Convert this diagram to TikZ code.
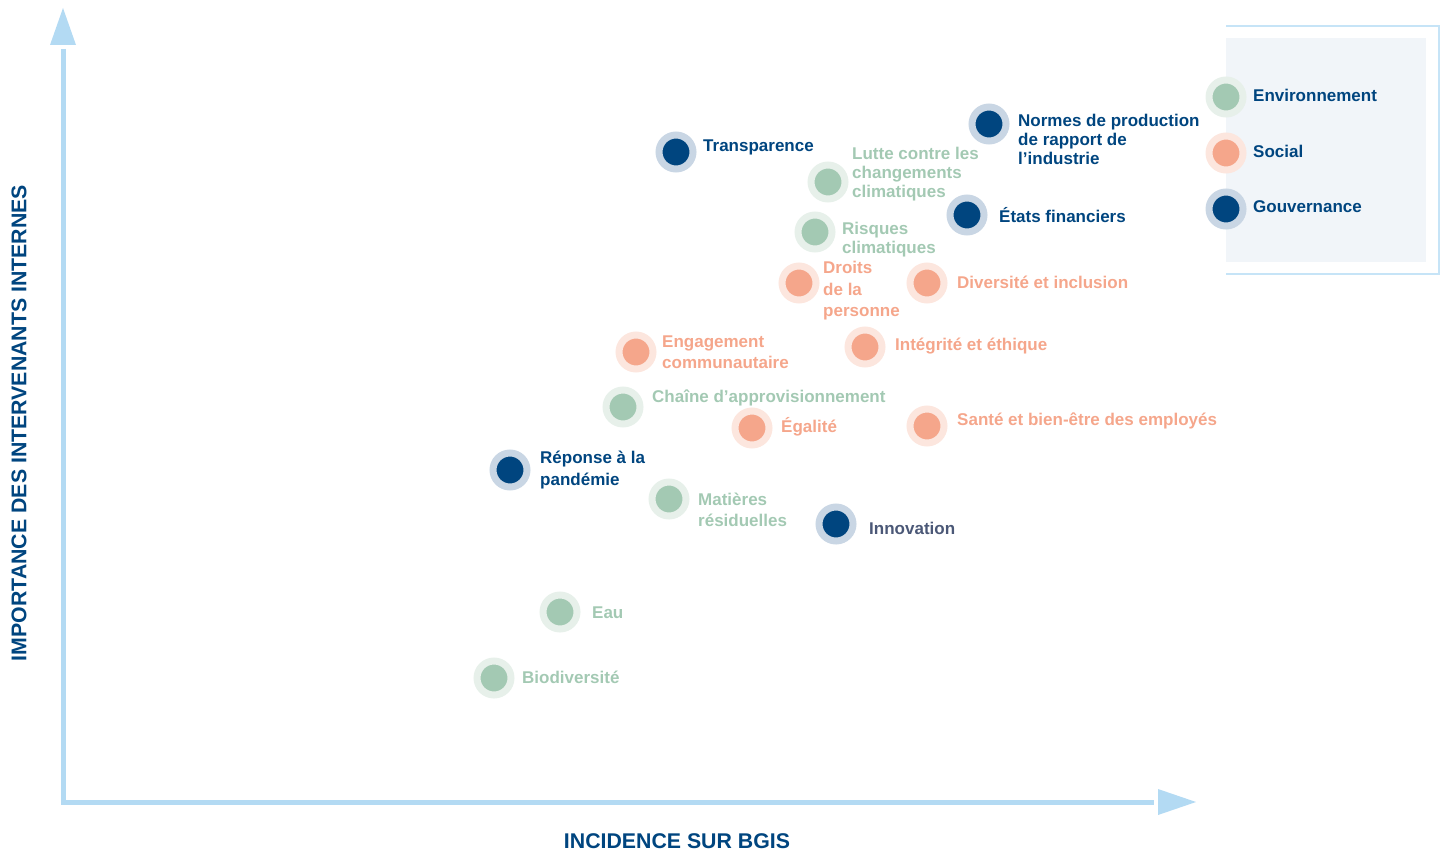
\documentclass[tikz,border=0pt]{standalone}
\usepackage{fontspec}
\setmainfont{Liberation Sans}
\usetikzlibrary{positioning}
\definecolor{envcore}{HTML}{A3C9B3}
\definecolor{envhalo}{HTML}{E7F0EA}
\definecolor{soccore}{HTML}{F5A68B}
\definecolor{sochalo}{HTML}{FCE6DE}
\definecolor{govcore}{HTML}{00457F}
\definecolor{govhalo}{HTML}{C9D6E4}
\definecolor{innovgray}{HTML}{4B5877}
\definecolor{axisblue}{HTML}{B3DAF3}
\definecolor{legendfill}{HTML}{F1F5F9}
\definecolor{legendline}{HTML}{C6E4F7}

\tikzset{
  esgdot/.style={circle, inner sep=0pt, minimum size=34pt, line width=7pt},
  envdot/.style={esgdot, fill=envcore, draw=envhalo},
  socdot/.style={esgdot, fill=soccore, draw=sochalo},
  govdot/.style={esgdot, fill=govcore, draw=govhalo},
  lab/.style={anchor=west, inner sep=0pt, align=left, font=\bfseries\fontsize{17}{19}\selectfont},
  widelab/.style={lab, font=\bfseries\fontsize{17}{21.5}\selectfont},
  axislab/.style={inner sep=0pt, text=govcore, font=\bfseries\fontsize{21.3}{24}\selectfont},
}

\begin{document}
\begin{tikzpicture}[x=1pt,y=-1pt]
            \useasboundingbox (0,0) rectangle (1442,851);

            % axes
            \coordinate (origin) at (63,802);
            \coordinate (ytop) at (63,49);
            \coordinate (xend) at (1154,802);
            \draw[axisblue, line width=5pt] (ytop) -- (origin) -- (xend);
            \fill[axisblue] (50,45) -- (76,45) -- (63,8) -- cycle;
            \fill[axisblue] (1158,789) -- (1158,815) -- (1196,802) -- cycle;
            \node[axislab, rotate=90] (ylab) at (19,423) {IMPORTANCE DES INTERVENANTS INTERNES};
            \node[axislab] (xlab) at (677,841) {INCIDENCE SUR BGIS};

            % legend
            \fill[legendfill] (1226,38) rectangle (1426,262);
            \draw[legendline, line width=1.2pt] (1226,26) -- (1439,26) -- (1439,274) -- (1226,274);
            \node[envdot] (lenv) at (1226,97) {};
            \node[lab, text=govcore] at (1253,95) {Environnement};
            \node[socdot] (lsoc) at (1226,153) {};
            \node[lab, text=govcore] at (1253,151) {Social};
            \node[govdot] (lgov) at (1226,209) {};
            \node[lab, text=govcore] at (1253,207) {Gouvernance};

            % gouvernance
            \node[govdot] (transp) at (676,152) {};
            \node[lab, text=govcore] at (703,147) {Transparence};
            \node[govdot] (normes) at (989,124) {};
            \node[lab, text=govcore] at (1018,139) {Normes de production\\de rapport de\\l’industrie};
            \node[govdot] (etats) at (967,215) {};
            \node[lab, text=govcore] at (999,215) {États financiers};
            \node[govdot] (pandemie) at (510,470) {};
            \node[widelab, text=govcore] at (540,470) {Réponse à la\\pandémie};
            \node[govdot] (innov) at (836,524) {};
            \node[lab, text=innovgray] at (869,528) {Innovation};

            % environnement
            \node[envdot] (lutte) at (828,182) {};
            \node[lab, text=envcore] at (852,174) {Lutte contre les\\changements\\climatiques};
            \node[envdot] (risques) at (815,232) {};
            \node[lab, text=envcore] at (842,240) {Risques\\climatiques};
            \node[envdot] (chaine) at (623,407) {};
            \node[lab, text=envcore] at (652,398) {Chaîne d’approvisionnement};
            \node[envdot] (matieres) at (669,499) {};
            \node[widelab, text=envcore] at (698,510) {Matières\\résiduelles};
            \node[envdot] (eau) at (560,612) {};
            \node[lab, text=envcore] at (592,613) {Eau};
            \node[envdot] (biodiv) at (494,678) {};
            \node[lab, text=envcore] at (522,677) {Biodiversité};

            % social
            \node[socdot] (droits) at (799,283) {};
            \node[widelab, text=soccore] at (823,291) {Droits\\de la\\personne};
            \node[socdot] (divers) at (927,283) {};
            \node[lab, text=soccore] at (957,282) {Diversité et inclusion};
            \node[socdot] (engag) at (636,352) {};
            \node[widelab, text=soccore] at (662,352) {Engagement\\communautaire};
            \node[socdot] (integ) at (865,347) {};
            \node[lab, text=soccore] at (895,346) {Intégrité et éthique};
            \node[socdot] (egal) at (752,428) {};
            \node[lab, text=soccore] at (781,427) {Égalité};
            \node[socdot] (sante) at (927,426) {};
            \node[lab, text=soccore] at (957,421) {Santé et bien-être des employés};
        \end{tikzpicture}
\end{document}
